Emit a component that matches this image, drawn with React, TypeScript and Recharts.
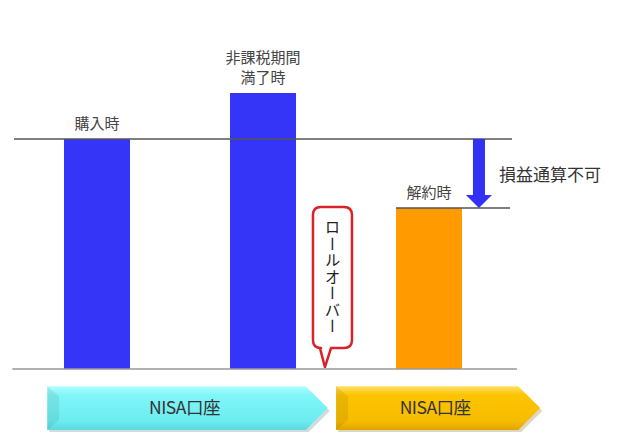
import { ComposedChart, Bar, Cell, XAxis, YAxis, ReferenceLine, ReferenceArea, LabelList } from "recharts";

const categories = ["購入時", "非課税期間\n満了時", "解約時"];
const values = [100, 120, 70];
const barColors = ["#3535f7", "#3535f7", "#ff9a00"];

const accountLabels = ["NISA口座", "NISA口座"];
const rolloverText = "ロールオーバー";
const lossText = "損益通算不可";

// x is the category slot (0..3), each bar centred in its slot
const data = categories.map((c, i) => ({ name: c, pos: i + 0.5, value: values[i] }));

const FONT = '"Noto Sans CJK JP", "Noto Sans", sans-serif';

function BarLabel(props: any) {
  const { x, y, width, value } = props;
  const lines = String(value).split("\n");
  const cx = x + width / 2;
  return (
    <text x={cx} textAnchor="middle" fontSize={15} fill="#444" fontFamily={FONT}>
      {lines.map((l, i) => (
        <tspan key={i} x={cx} y={y - 10 - (lines.length - 1 - i) * 20}>
          {l}
        </tspan>
      ))}
    </text>
  );
}

function DownArrow(props: any) {
  const { x1, y1, y2 } = props;
  const cx = x1;
  const shaft = 6;
  const head = 13;
  const hh = 13;
  const pts = [
    [cx - shaft, y1],
    [cx + shaft, y1],
    [cx + shaft, y2 - hh],
    [cx + head, y2 - hh],
    [cx, y2],
    [cx - head, y2 - hh],
    [cx - shaft, y2 - hh],
  ]
    .map((p) => p.join(","))
    .join(" ");
  return (
    <g>
      <polygon points={pts} fill="#3232f4" />
      <text x={cx + 20} y={(y1 + y2) / 2 + 7} fontSize={17} fill="#333" fontFamily={FONT}>
        {lossText}
      </text>
    </g>
  );
}

function Callout(props: any) {
  const { x, y, width, height } = props;
  const r = 8;
  const b = y + height;
  const px = x + 12;
  const d = [
    `M${x + r},${y}`,
    `H${x + width - r}`,
    `Q${x + width},${y} ${x + width},${y + r}`,
    `V${b - r}`,
    `Q${x + width},${b} ${x + width - r},${b}`,
    `H${px + 6}`,
    `L${px},${b + 19}`,
    `L${px - 5},${b}`,
    `H${x + r}`,
    `Q${x},${b} ${x},${b - r}`,
    `V${y + r}`,
    `Q${x},${y} ${x + r},${y}`,
    "Z",
  ].join(" ");
  return (
    <g>
      <path d={d} fill="#fff" stroke="#d9232a" strokeWidth={2.5} strokeLinejoin="round" />
      <text
        x={x + width / 2}
        y={y + height / 2}
        fontSize={15.5}
        fill="#222"
        fontFamily={FONT}
        textAnchor="middle"
        style={{ writingMode: "vertical-rl" as any, letterSpacing: 1 }}
      >
        {rolloverText}
      </text>
    </g>
  );
}

function makePentagon(gradId: string, label: string, shadow: string) {
  return function Pent(props: any) {
    const { x, y, width, height } = props;
    const tip = 22;
    const pts = [
      [x, y],
      [x + width - tip, y],
      [x + width, y + height / 2],
      [x + width - tip, y + height],
      [x, y + height],
    ]
      .map((p) => p.join(","))
      .join(" ");
    const sh = [
      [x + 2, y + 3],
      [x + width - tip + 2, y + 3],
      [x + width + 2, y + height / 2 + 3],
      [x + width - tip + 2, y + height + 3],
      [x + 2, y + height + 3],
    ]
      .map((p) => p.join(","))
      .join(" ");
    return (
      <g>
        <polygon points={sh} fill={shadow} opacity={0.35} />
        <polygon points={pts} fill={`url(#${gradId})`} />
        <polygon
          points={`${x},${y} ${x + 12},${y + 10} ${x + 12},${y + height - 10} ${x},${y + height}`}
          fill="#000"
          opacity={0.07}
        />
        <text
          x={x + (width - tip) / 2 + 8}
          y={y + height / 2 + 6}
          textAnchor="middle"
          fontSize={17.5}
          fill="#333"
          fontFamily={FONT}
          letterSpacing={-0.5}
        >
          {label}
        </text>
      </g>
    );
  };
}

const CyanArrow = makePentagon("cyanGrad", accountLabels[0], "#7a9a9a");
const GoldArrow = makePentagon("goldGrad", accountLabels[1], "#9a8a5a");

export default function App() {
  return (
    <div style={{ position: "absolute", left: 0, top: 0, background: "#fff" }}>
      <ComposedChart
        width={618}
        height={432}
        data={data}
        margin={{ top: 24, right: 106, bottom: 63, left: 14 }}
      >
        <defs>
          <linearGradient id="cyanGrad" x1="0" y1="0" x2="0" y2="1">
            <stop offset="0%" stopColor="#b4fdfd" />
            <stop offset="20%" stopColor="#80f6f8" />
            <stop offset="80%" stopColor="#6cecf0" />
            <stop offset="100%" stopColor="#5cd8de" />
          </linearGradient>
          <linearGradient id="goldGrad" x1="0" y1="0" x2="0" y2="1">
            <stop offset="0%" stopColor="#ffe066" />
            <stop offset="20%" stopColor="#fcc400" />
            <stop offset="80%" stopColor="#f7bc00" />
            <stop offset="100%" stopColor="#e0a400" />
          </linearGradient>
        </defs>
        <XAxis dataKey="pos" type="number" domain={[0, 3]} hide allowDataOverflow />
        <YAxis hide domain={[0, 150]} allowDataOverflow />
        <Bar dataKey="value" barSize={66} isAnimationActive={false}>
          {data.map((d, i) => (
            <Cell key={d.name} fill={barColors[i]} />
          ))}
          <LabelList dataKey="name" content={<BarLabel />} />
        </Bar>
        <ReferenceLine y={100} stroke="#555" strokeWidth={1.5} />
        <ReferenceLine
          segment={[
            { x: 2.301, y: 70 },
            { x: 2.988, y: 70 },
          ]}
          stroke="#555"
          strokeWidth={1.5}
        />
        <ReferenceLine
          segment={[
            { x: -0.01, y: 0 },
            { x: 3.03, y: 0 },
          ]}
          stroke="#999"
          strokeWidth={1.5}
          ifOverflow="visible"
        />
        <ReferenceLine
          segment={[
            { x: 2.801, y: 100 },
            { x: 2.801, y: 70 },
          ]}
          shape={<DownArrow />}
        />
        <ReferenceArea x1={1.801} x2={2.036} y1={70.4} y2={9.1} shape={<Callout />} />
        <ReferenceArea
          x1={0.2}
          x2={1.89}
          y1={-7.5}
          y2={-26.5}
          ifOverflow="visible"
          shape={<CyanArrow />}
        />
        <ReferenceArea
          x1={1.94}
          x2={3.17}
          y1={-7.5}
          y2={-26.5}
          ifOverflow="visible"
          shape={<GoldArrow />}
        />
      </ComposedChart>
    </div>
  );
}
